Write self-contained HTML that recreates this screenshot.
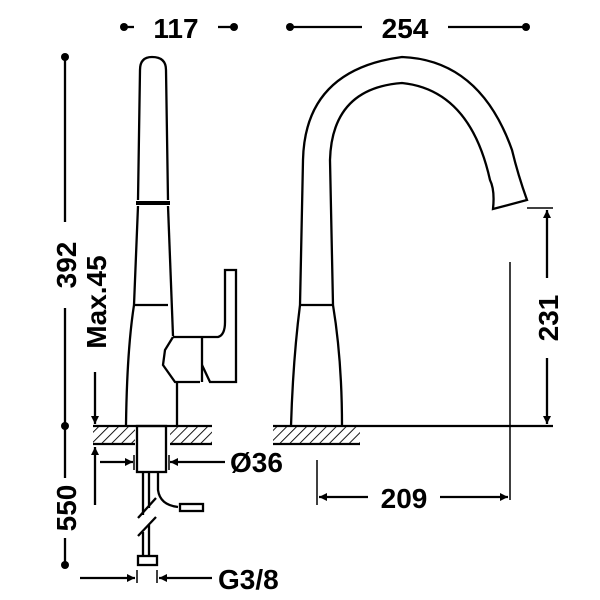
<!DOCTYPE html>
<html><head><style>html,body{margin:0;padding:0;background:#fff}svg{display:block}</style></head><body>
<svg width="600" height="600" viewBox="0 0 600 600" xmlns="http://www.w3.org/2000/svg" font-family="Liberation Sans, sans-serif" font-weight="bold">
<defs>
<pattern id="h" width="7" height="7" patternUnits="userSpaceOnUse" patternTransform="rotate(45)"><line x1="0" y1="0" x2="0" y2="7" stroke="#000" stroke-width="1.8"/></pattern>
<marker id="a" viewBox="0 0 10 10" refX="10" refY="5" markerWidth="13" markerHeight="8" markerUnits="userSpaceOnUse" orient="auto"><path d="M0,0L10,5L0,10z"/></marker>
</defs>
<g stroke="#000" stroke-width="2.3" fill="none">
<line x1="124" y1="27" x2="134" y2="27"/><line x1="218" y1="27" x2="234" y2="27"/>
<line x1="290" y1="27" x2="362" y2="27"/><line x1="448" y1="27" x2="526" y2="27"/>
<line x1="65" y1="57" x2="65" y2="222"/><line x1="65" y1="308" x2="65" y2="478"/><line x1="65" y1="538" x2="65" y2="565"/>
<line x1="95" y1="372" x2="95" y2="424" marker-end="url(#a)"/>
<line x1="95" y1="505" x2="95" y2="447" marker-end="url(#a)"/>
<path d="M138,200 L140,70 Q140,57 152,57 Q166,57 166,70 L168,200"/>
<line x1="136" y1="203" x2="170" y2="203" stroke-width="4"/>
<path d="M138,206 L134,305 Q127,350 126,425"/>
<path d="M168,206 L173,336"/>
<line x1="134" y1="305" x2="168" y2="305"/>
<path d="M173,337 L218,337 Q225,335 225,322 L225,270 L236,270 L236,382 L210,382 L202,365"/>
<path d="M173,337 L165,350 L163,365 L175,382 L200,382"/>
<line x1="202" y1="337" x2="202" y2="382"/>
<path d="M177,382 L177,425"/>
<rect x="93" y="426" width="42" height="18" fill="url(#h)" stroke="none"/>
<rect x="170" y="426" width="42" height="18" fill="url(#h)" stroke="none"/>
<line x1="93" y1="426" x2="212" y2="426"/><line x1="93" y1="444" x2="135" y2="444"/><line x1="170" y1="444" x2="212" y2="444"/>
<rect x="137" y="426" width="29" height="46"/>
<line x1="134" y1="455" x2="134" y2="470" stroke-width="1.5"/><line x1="169" y1="455" x2="169" y2="470" stroke-width="1.5"/>
<line x1="100" y1="462" x2="133" y2="462" marker-end="url(#a)"/>
<line x1="225" y1="462" x2="170" y2="462" marker-end="url(#a)"/>
<line x1="143" y1="472" x2="143" y2="515"/><line x1="149" y1="472" x2="149" y2="508"/>
<line x1="138" y1="518" x2="156" y2="498"/><line x1="138" y1="536" x2="156" y2="517"/>
<line x1="143" y1="532" x2="143" y2="556"/><line x1="149" y1="525" x2="149" y2="556"/>
<path d="M158,472 L158,490 Q160,505 178,507"/>
<rect x="180" y="504" width="23" height="7"/>
<rect x="138" y="556" width="19" height="9"/>
<line x1="137" y1="570" x2="137" y2="583" stroke-width="1.5"/><line x1="157" y1="570" x2="157" y2="583" stroke-width="1.5"/>
<line x1="80" y1="578" x2="135" y2="578" marker-end="url(#a)"/>
<line x1="212" y1="578" x2="159" y2="578" marker-end="url(#a)"/>
<path d="M291,426 Q293,360 300,305 L303,160 Q305,70 402,57 Q480,60 512,150 Q518,175 527,200 L493,209 Q495,190 490,180 Q470,90 402,83 Q332,88 330,160 L333,305 Q342,360 342,426"/>
<line x1="300" y1="305" x2="333" y2="305"/>
<rect x="273" y="426" width="87" height="18" fill="url(#h)" stroke="none"/>
<line x1="273" y1="426" x2="553" y2="426"/><line x1="273" y1="444" x2="360" y2="444"/>
<line x1="527" y1="208" x2="553" y2="208" stroke-width="1.5"/>
<line x1="547" y1="278" x2="547" y2="210" marker-end="url(#a)"/>
<line x1="547" y1="358" x2="547" y2="424" marker-end="url(#a)"/>
<line x1="510" y1="262" x2="510" y2="500" stroke-width="1.5"/>
<line x1="317" y1="460" x2="317" y2="505" stroke-width="1.5"/>
<line x1="368" y1="497" x2="319" y2="497" marker-end="url(#a)"/>
<line x1="440" y1="497" x2="508" y2="497" marker-end="url(#a)"/>
</g>
<g fill="#000">
<circle cx="124" cy="27" r="4"/><circle cx="234" cy="27" r="4"/><circle cx="290" cy="27" r="4"/><circle cx="526" cy="27" r="4"/>
<circle cx="65" cy="57" r="4"/><circle cx="65" cy="426" r="4"/><circle cx="65" cy="565" r="4"/>
</g>
<g font-size="28" text-anchor="middle">
<text x="176" y="38">117</text>
<text x="405" y="38">254</text>
<text x="404" y="508">209</text>
<text transform="translate(76,265) rotate(-90)">392</text>
<text transform="translate(76,508) rotate(-90)">550</text>
<text transform="translate(106,302) rotate(-90)">Max.45</text>
<text transform="translate(558,318) rotate(-90)">231</text>
</g>
<g font-size="28">
<text x="230" y="472">Ø36</text>
<text x="218" y="589">G3/8</text>
</g>
</svg>
</body></html>
